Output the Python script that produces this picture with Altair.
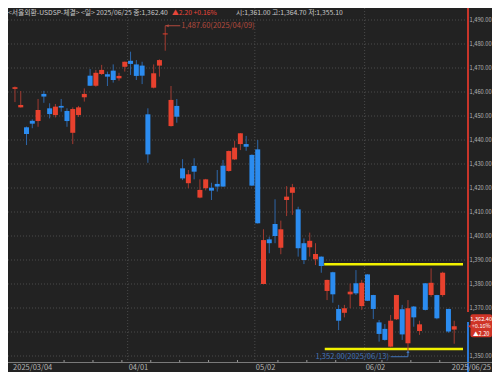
import altair as alt
import pandas as pd

# ---- OHLC data (USD/KRW daily, 2025/03/04 .. 2025/06/25) ----
opens = [1461.3, 1453.6, 1445.3, 1448.0, 1447.9, 1459.2, 1453.2, 1450.4, 1454.2, 1452.1,
         1443.0, 1450.4, 1457.8, 1466.8, 1462.6, 1467.5, 1467.4, 1468.9, 1465.7, 1470.5,
         1473.0, 1471.5, 1471.0, 1450.7, 1461.8, 1471.0, 1484.0, 1445.8, 1454.2, 1428.2,
         1422.0, 1429.2, 1416.0, 1419.9, 1420.1, 1421.7, 1429.3, 1427.1, 1431.9, 1438.3,
         1438.3, 1433.8, 1436.1, 1380.0, 1398.6, 1405.0, 1395.1, 1415.0, 1418.0, 1411.1,
         1397.0, 1395.3, 1390.3, 1391.4, 1377.1, 1384.9, 1369.6, 1368.0, 1375.7, 1380.3,
         1370.8, 1384.0, 1375.4, 1364.0, 1361.3, 1353.9, 1365.3, 1369.5, 1355.3, 1370.6,
         1360.4, 1380.3, 1375.4, 1375.4, 1375.4, 1369.6, 1361.0]
highs = [1462.3, 1460.4, 1445.6, 1448.6, 1457.1, 1460.5, 1455.3, 1455.0, 1457.1, 1453.2,
         1453.6, 1454.2, 1461.5, 1469.6, 1469.2, 1471.3, 1468.5, 1471.5, 1468.0, 1472.7,
         1476.8, 1473.3, 1472.6, 1453.2, 1471.5, 1473.6, 1487.6, 1462.5, 1457.1, 1432.0,
         1427.5, 1432.4, 1423.6, 1423.8, 1422.2, 1427.5, 1431.7, 1435.6, 1439.7, 1442.9,
         1441.7, 1434.0, 1440.0, 1402.8, 1399.7, 1415.3, 1406.4, 1420.8, 1421.7, 1412.2,
         1399.0, 1401.4, 1397.0, 1391.5, 1381.8, 1385.1, 1371.3, 1371.3, 1380.2, 1385.8,
         1381.7, 1384.1, 1375.5, 1365.0, 1363.3, 1367.1, 1375.5, 1371.3, 1373.3, 1370.8,
         1364.7, 1380.4, 1386.5, 1375.5, 1385.1, 1369.7, 1364.7]
lows = [1455.8, 1453.5, 1437.9, 1444.9, 1445.5, 1455.5, 1449.0, 1449.4, 1451.8, 1445.5,
        1438.3, 1449.6, 1456.0, 1462.5, 1462.2, 1467.1, 1462.5, 1463.9, 1464.7, 1468.5,
        1467.1, 1465.0, 1463.3, 1430.5, 1461.5, 1466.4, 1477.2, 1445.6, 1447.2, 1423.3,
        1419.9, 1423.6, 1415.7, 1419.0, 1415.0, 1418.5, 1420.5, 1426.8, 1431.7, 1435.8,
        1435.5, 1420.8, 1405.2, 1379.9, 1392.8, 1397.0, 1392.4, 1408.3, 1408.8, 1391.4,
        1388.3, 1391.4, 1387.9, 1384.7, 1373.3, 1372.2, 1360.8, 1366.1, 1369.9, 1375.4,
        1369.2, 1372.9, 1365.4, 1356.0, 1356.4, 1353.6, 1365.0, 1356.7, 1352.0, 1362.2,
        1358.8, 1369.0, 1374.7, 1365.3, 1374.7, 1359.7, 1355.1]
closes = [1462.0, 1454.6, 1442.5, 1446.8, 1452.5, 1458.1, 1450.8, 1453.9, 1453.5, 1447.9,
          1452.9, 1453.6, 1459.2, 1462.6, 1468.0, 1469.2, 1466.4, 1465.0, 1466.7, 1472.6,
          1471.7, 1466.7, 1466.8, 1434.0, 1467.8, 1473.3, 1484.4, 1456.7, 1449.7, 1424.0,
          1425.7, 1426.8, 1419.2, 1423.6, 1418.9, 1420.6, 1420.6, 1435.4, 1436.8, 1442.8,
          1437.2, 1421.0, 1405.3, 1398.3, 1397.0, 1400.0, 1402.8, 1416.4, 1420.3, 1394.9,
          1390.0, 1398.0, 1392.5, 1387.5, 1381.7, 1375.7, 1364.7, 1369.9, 1376.8, 1376.1,
          1380.5, 1373.0, 1369.6, 1359.2, 1356.7, 1364.7, 1375.4, 1359.0, 1369.9, 1366.1,
          1363.2, 1369.2, 1380.5, 1365.7, 1384.7, 1360.2, 1362.4]

# x-axis labels (candle index -> text)
label_idx = [0, 20, 42, 61]
label_txt = ["2025/03/04", "04/01", "05/02", "06/02"]
last_label = ["2025/06/25"]
month_idx = [20, 42, 61]
week_idx = [9, 14, 19, 24, 29, 34, 39, 46, 51, 56, 64, 69, 74]

# y grid / labels (1,360.00 sits under the current-price box in the reference)
grid_vals = [1350, 1360, 1370, 1380, 1390, 1400, 1410, 1420, 1430, 1440,
             1450, 1460, 1470, 1480, 1490]
ylabel_vals = [1350, 1370, 1380, 1390, 1400, 1410, 1420, 1430, 1440,
               1450, 1460, 1470, 1480, 1490]

# horizontal support / resistance lines (yellow)
band_prices = [1388.2, 1352.9]
band_start = [53.5, 53.6]

# annotations
hi_idx, hi_val, hi_txt = 26, 1487.6, "1,487.60(2025/04/09)"
lo_idx, lo_val, lo_txt = 68, 1352.0, "1,352.00(2025/06/13)"

# header
head_1 = "<서울외환-USDSP-체결> <일> 2025/06/25 종:1,362.40"
head_2 = "▲2.20 +0.16%"
head_3 = "시:1,361.00 고:1,364.70 저:1,355.10"

last_close = closes[-1]
box_lines = ["1,362.40", "+0.16%", "▲2.20"]

# ---- styling ----
BG = "#222222"
UP = "#e8412e"
DN = "#2b8cf0"
UP_W = "#a03a30"
DN_W = "#2d66a8"
GRID = "#4a4a4a"
TXT = "#b4b4b4"
FONT = "Noto Sans CJK KR"

PW, PH = 460, 354
X_DOM = [-0.3385, 77.52]
Y_DOM = [1347.5, 1495.0]
xs = alt.Scale(domain=X_DOM, nice=False, zero=False)
ys = alt.Scale(domain=Y_DOM, nice=False, zero=False)

df = pd.DataFrame({"i": list(range(len(opens))), "open": opens, "high": highs,
                   "low": lows, "close": closes})

up_cond = "datum.close >= datum.open"
one = pd.DataFrame({"a": [0]})

grid = alt.Chart(pd.DataFrame({"v": grid_vals})).mark_rule(
    color=GRID, strokeDash=[1, 2], strokeWidth=1
).encode(y=alt.Y("v:Q", scale=ys, axis=None))

ylabels = alt.Chart(pd.DataFrame({"v": ylabel_vals})).transform_calculate(
    lab="format(datum.v, ',.2f')"
).mark_text(align="left", baseline="middle", font=FONT, fontSize=5.7, color=TXT).encode(
    x=alt.value(PW + 1.5), y=alt.Y("v:Q", scale=ys, axis=None), text="lab:N")

vgrid = alt.Chart(pd.DataFrame({"m": month_idx})).transform_calculate(
    xb="datum.m - 0.5"
).mark_rule(color=GRID, strokeDash=[1, 2], strokeWidth=1).encode(
    x=alt.X("xb:Q", scale=xs, axis=None)
)

wicks = alt.Chart(df).mark_rule(strokeWidth=1).encode(
    x=alt.X("i:Q", scale=xs, axis=None),
    y=alt.Y("low:Q", scale=ys, axis=None),
    y2="high:Q",
    color=alt.condition(up_cond, alt.value(UP_W), alt.value(DN_W)),
)

bodies = alt.Chart(df).mark_bar(size=5).encode(
    x=alt.X("i:Q", scale=xs, axis=None),
    y=alt.Y("open:Q", scale=ys, axis=None),
    y2="close:Q",
    color=alt.condition(up_cond, alt.value(UP), alt.value(DN)),
)

bands = alt.Chart(pd.DataFrame({"p": band_prices, "s": band_start})).transform_calculate(
    e=str(X_DOM[1])
).mark_rule(color="#f2f200", strokeWidth=2.6).encode(
    x=alt.X("s:Q", scale=xs, axis=None),
    x2="e:Q",
    y=alt.Y("p:Q", scale=ys, axis=None),
)

# right edge line (red above, blue below)
edge_red = alt.Chart(one).mark_rule(color="#c8352a", strokeWidth=2).encode(
    x=alt.value(PW), y=alt.value(0), y2=alt.value(304))
edge_blue = alt.Chart(one).mark_rule(color="#2a78d8", strokeWidth=2).encode(
    x=alt.value(PW), y=alt.value(314), y2=alt.value(364))

# bottom axis line + week ticks + labels
xline = alt.Chart(one).mark_rule(color="#7a7a7a", strokeWidth=1).encode(
    x=alt.value(0), x2=alt.value(484), y=alt.value(PH + 0.5))
wticks = alt.Chart(pd.DataFrame({"w": week_idx})).transform_calculate(
    xb="datum.w - 0.5"
).mark_rule(color="#9a9a9a", strokeWidth=1).encode(
    x=alt.X("xb:Q", scale=xs, axis=None), y=alt.value(PH - 2), y2=alt.value(PH))
xlabels = alt.Chart(pd.DataFrame({"k": label_idx, "t": label_txt})).transform_calculate(
    xb="datum.k - 0.5"
).mark_text(align="left", baseline="middle", dx=1, font=FONT, fontSize=7.5, color=TXT).encode(
    x=alt.X("xb:Q", scale=xs, axis=None), y=alt.value(PH + 5.5), text="t:N")
xlast = alt.Chart(pd.DataFrame({"t": last_label})).mark_text(
    align="right", baseline="middle", font=FONT, fontSize=7.5, color=TXT
).encode(x=alt.value(483), y=alt.value(PH + 5.5), text="t:N")

# current price box
pb = pd.DataFrame({"c": [last_close]})
box = alt.Chart(pb).transform_calculate(
    top="datum.c + 5.0", bot="datum.c - 4.6"
).mark_rect(color="#cf3427", cornerRadius=2).encode(
    x=alt.value(PW + 2.5), x2=alt.value(484),
    y=alt.Y("top:Q", scale=ys, axis=None), y2="bot:Q")
arrow = alt.Chart(pb).mark_point(shape="triangle-left", filled=True, size=24,
                                 color="#cf3427", opacity=1).encode(
    x=alt.value(PW + 2), y=alt.Y("c:Q", scale=ys, axis=None))
box_txt = []
for line, dy in zip(box_lines, [-7.5, 0, 7.5]):
    box_txt.append(
        alt.Chart(pd.DataFrame({"c": [last_close], "t": [line]})).mark_text(
            align="center", baseline="middle", dy=dy, font=FONT, fontSize=5.6, color="#ffffff"
        ).encode(x=alt.value(PW + 13.2), y=alt.Y("c:Q", scale=ys, axis=None), text="t:N")
    )

# high annotation
HI_C = "#b44a3e"
hi_df = pd.DataFrame({"x": [hi_idx], "x2": [hi_idx + 2.6], "y": [hi_val], "t": [hi_txt]})
hi_line = alt.Chart(hi_df).mark_rule(color=HI_C, strokeWidth=1).encode(
    x=alt.X("x:Q", scale=xs, axis=None), x2="x2:Q", y=alt.Y("y:Q", scale=ys, axis=None))
hi_arrow = alt.Chart(hi_df).mark_point(shape="triangle-left", filled=True, size=10,
                                       color=HI_C, opacity=1).encode(
    x=alt.X("x:Q", scale=xs, axis=None), y=alt.Y("y:Q", scale=ys, axis=None), xOffset=alt.value(2))
hi_text = alt.Chart(hi_df).mark_text(align="left", baseline="middle", dx=16, font=FONT,
                                     fontSize=7.5, color=HI_C).encode(
    x=alt.X("x:Q", scale=xs, axis=None), y=alt.Y("y:Q", scale=ys, axis=None), text="t:N")

# low annotation
LO_C = "#4274b8"
lo_df = pd.DataFrame({"x": [lo_idx], "x1": [lo_idx - 3.0], "y": [lo_val - 2.3],
                      "y1": [lo_val - 0.2], "t": [lo_txt]})
lo_h = alt.Chart(lo_df).mark_rule(color=LO_C, strokeWidth=1).encode(
    x=alt.X("x1:Q", scale=xs, axis=None), x2="x:Q", y=alt.Y("y:Q", scale=ys, axis=None))
lo_v = alt.Chart(lo_df).mark_rule(color=LO_C, strokeWidth=1).encode(
    x=alt.X("x:Q", scale=xs, axis=None), y=alt.Y("y:Q", scale=ys, axis=None), y2="y1:Q")
lo_arrow = alt.Chart(lo_df).mark_point(shape="triangle-up", filled=True, size=10,
                                       color=LO_C, opacity=1).encode(
    x=alt.X("x:Q", scale=xs, axis=None), y=alt.Y("y1:Q", scale=ys, axis=None))
lo_text = alt.Chart(lo_df).mark_text(align="right", baseline="middle", dx=-19, dy=0.5,
                                     font=FONT, fontSize=7.5, color=LO_C).encode(
    x=alt.X("x:Q", scale=xs, axis=None), y=alt.Y("y:Q", scale=ys, axis=None), text="t:N")

# header
h1 = alt.Chart(pd.DataFrame({"t": [head_1]})).mark_text(
    align="left", baseline="top", font=FONT, fontSize=6.8, color="#c8c8c8"
).encode(x=alt.value(0), y=alt.value(2), text="t:N")
h2 = alt.Chart(pd.DataFrame({"t": [head_2]})).mark_text(
    align="left", baseline="top", font=FONT, fontSize=6.8, color="#e8463a"
).encode(x=alt.value(164), y=alt.value(2), text="t:N")
h3 = alt.Chart(pd.DataFrame({"t": [head_3]})).mark_text(
    align="left", baseline="top", font=FONT, fontSize=6.8, color="#c8c8c8"
).encode(x=alt.value(228), y=alt.value(2), text="t:N")

chart = alt.layer(
    grid, vgrid, bands, wicks, bodies, edge_red, edge_blue, xline, wticks, xlabels, xlast,
    ylabels, box, arrow, *box_txt, hi_line, hi_arrow, hi_text, lo_h, lo_v, lo_arrow,
    lo_text, h1, h2, h3
).properties(
    width=PW, height=PH,
    autosize=alt.AutoSizeParams(type="none"),
    padding={"left": 0, "top": 0, "right": 24, "bottom": 10},
    background=BG,
).configure_view(stroke=None)

chart.save("out.html", embed_options={"renderer": "svg", "actions": False})
